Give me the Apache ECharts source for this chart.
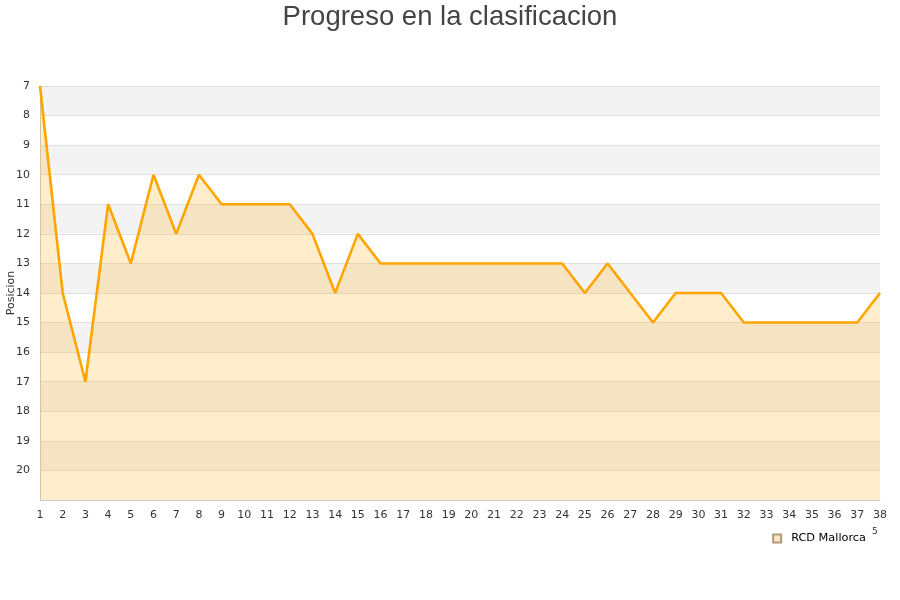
<!DOCTYPE html>
<html><head><meta charset="utf-8">
<script src="https://cdn.jsdelivr.net/npm/echarts@6/dist/echarts.min.js"></script>
<style>html,body{margin:0;padding:0;background:#fff}#c{width:900px;height:600px}</style>
</head><body><div id="c"></div>
<script>
var jornadas = ['1','2','3','4','5','6','7','8','9','10','11','12','13','14','15','16','17','18','19','20','21','22','23','24','25','26','27','28','29','30','31','32','33','34','35','36','37','38'];
var posiciones = [7,14,17,11,13,10,12,10,11,11,11,11,12,14,12,13,13,13,13,13,13,13,13,13,14,13,14,15,14,14,14,15,15,15,15,15,15,14];
var seriesName = 'RCD Mallorca';
var titleText = 'Progreso en la clasificacion';
var yName = 'Posicion';

var chart = echarts.init(document.getElementById('c'));
chart.setOption({
  animation: false,
  title: {text: titleText, left: 'center', top: -2,
    textStyle: {fontFamily: 'Liberation Sans', fontSize: 27.5, fontWeight: 'normal', color: '#444'}},
  grid: {left: 40, right: 20, top: 86, bottom: 100, containLabel: false, outerBoundsMode: 'none'},
  legend: {data: [{name: seriesName, icon: 'rect'}], right: 29, top: 528, itemWidth: 8, itemHeight: 8, itemGap: 14,
    textStyle: {fontFamily: 'DejaVu Sans', fontSize: 11.3, color: '#000', padding: [0, 0, 0, 5]}},
  xAxis: {type: 'category', data: jornadas, boundaryGap: false,
    axisLine: {lineStyle: {color: '#ccc'}}, axisTick: {show: false},
    axisLabel: {fontFamily: 'DejaVu Sans', fontSize: 11, color: '#333', margin: 10, interval: 0}},
  yAxis: {type: 'value', inverse: true, min: 7, max: 21, interval: 1,
    name: yName, nameLocation: 'middle', nameGap: 23, nameRotate: 90, nameMoveOverlap: false,
    nameTextStyle: {fontFamily: 'DejaVu Sans', fontSize: 11, color: '#333'},
    axisLine: {show: true, lineStyle: {color: '#ccc'}}, axisTick: {show: false},
    axisLabel: {fontFamily: 'DejaVu Sans', fontSize: 11, color: '#333', margin: 10,
      formatter: function(v){ return v === 21 ? '' : v; }},
    splitLine: {lineStyle: {color: '#e0e0e0'}},
    splitArea: {show: true, areaStyle: {color: ['#f3f3f3', '#ffffff']}}},
  series: [{
    name: seriesName, type: 'line', data: posiciones, symbol: 'none',
    lineStyle: {color: '#ffa500', width: 2.6},
    itemStyle: {color: '#fbe6c0', borderColor: '#b09a80', borderWidth: 1},
    areaStyle: {color: '#ffa500', opacity: 0.2, origin: 'end'}
  }],
  graphic: [{type: 'text', left: 872, top: 527, style: {text: '5', fontSize: 9, fill: '#333', fontFamily: 'DejaVu Sans'}}]
});
</script></body></html>
